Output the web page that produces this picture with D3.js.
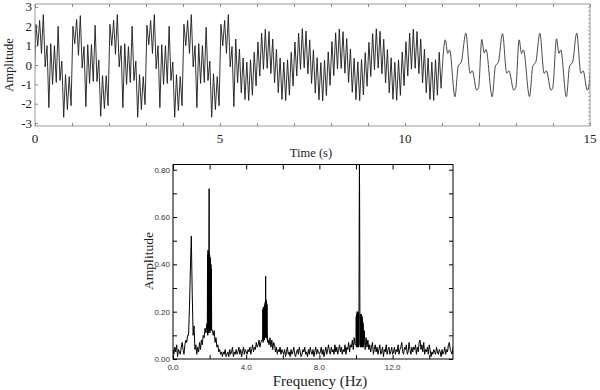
<!DOCTYPE html>
<html><head><meta charset="utf-8">
<script src="https://cdn.jsdelivr.net/npm/d3@7"></script>
<style>body{margin:0;background:#fff}svg{display:block;background:#fff}</style>
</head><body><svg id="c" width="600" height="390"></svg>
<script>
// ---------- DATA ----------
// time signal: fast parts sampled at their peaks/troughs (every 0.05 s)
const sampleStep = 0.05;
const seg1Start = -0.025;
const seg1 = [-1.2,
 2.1,1.0,2.3,0.6,2.6,-0.1,1.0,-2.2,1.1,-1.0,1.0,-0.9,2.0,-0.8,0.2,-2.7,-0.5,-2.3,-0.6,-2.1,
 2.0,1.1,2.35,0.5,2.55,-0.15,0.95,-2.15,1.05,-0.95,1.05,-0.85,2.05,-0.85,0.25,-2.65,-0.55,-2.25,-0.55,-2.1,
 2.1,1.0,2.3,0.55,2.6,-0.1,1.0,-2.2,1.1,-1.0,0.95,-0.9,2.0,-0.8,0.2,-2.7,-0.5,-2.3,-0.6,-2.05,
 2.05,1.05,2.3,0.6,2.6,-0.2,1.0,-2.2,1.05,-1.0,1.0,-0.95,2.0,-0.8,0.15,-2.7,-0.5,-2.35,-0.6,-2.1,
 2.1,1.0,2.3,0.6,2.6,-0.1,1.0,-2.2,1.1,-0.95,1.0,-0.9,1.95,-0.8,0.2,-2.7,-0.45,-2.3,-0.6,-2.1,
 2.1,1.0,2.3,0.6,2.6,-0.1,0.95,-2.15];
const seg2 = [
 1.34,-0.92,0.81,-1.43,0.36,-1.78,0.15,-1.83,0.27,-1.56,0.66,-1.08,1.19,-0.57,1.64,-0.22,
 1.85,-0.17,1.73,-0.44,1.34,-0.92,0.81,-1.43,0.36,-1.78,0.15,-1.83,0.27,-1.56,0.66,-1.08,1.19,-0.57,1.64,-0.22,
 1.88,-0.15,1.75,-0.46,1.30,-0.95,0.78,-1.45,0.38,-1.80,0.12,-1.85,0.25,-1.58,0.68,-1.05,1.21,-0.55,1.66,-0.20,
 1.86,-0.18,1.72,-0.42,1.36,-0.90,0.83,-1.41,0.34,-1.79,0.16,-1.84,0.28,-1.55,0.64,-1.10,1.17,-0.59,1.62,-0.24,
 1.87,-0.16,1.74,-0.45,1.33,-0.93,0.80,-1.44,0.37,-1.77,0.14,-1.82,0.26,-1.57,0.67,-1.07,1.20,-0.56,1.65,-0.21,
 1.85,-0.17,1.73,-0.44,1.34,-0.92,0.81,-1.43,0.36,-1.78,0.15,-1.83,0.27,-1.56,0.66,-1.2];
// slow last part: turning points (time s, amplitude)
const seg3T = [
 11.09,11.155,11.205,11.35,11.44,11.52,11.645,11.76,11.82,11.935,11.99,
 12.075,12.14,12.19,12.355,12.445,12.525,12.635,12.75,12.81,12.94,12.995,
 13.085,13.15,13.2,13.365,13.455,13.535,13.645,13.76,13.82,13.945,13.995,
 14.095,14.16,14.21,14.36,14.45,14.53,14.64,14.755,14.815,14.925,14.97,
 15.06];
const seg3V = [
 1.3,0.6,0.78,-1.64,-0.05,0.15,1.64,-0.43,-0.3,-1.3,-1.15,
 1.32,0.62,0.8,-1.64,-0.05,0.15,1.62,-0.42,-0.3,-1.3,-1.15,
 1.3,0.6,0.78,-1.63,-0.05,0.15,1.64,-0.43,-0.3,-1.3,-1.15,
 1.35,0.6,0.78,-1.64,-0.05,0.15,1.64,-0.43,-0.3,-1.3,-1.1,
 1.3];
const timeLabels = [0,5,10,15];
const ampLabels = [-3,-2,-1,0,1,2,3];

// amplitude spectrum, every 0.05 Hz from 0 Hz
const freqStep = 0.05;
const spectrum = [
 0.04,0.02,0.05,0.03,0.06,0.01,0.04,0.03,0.02,0.05,0.07,0.04,0.02,0.06,0.08,0.07,0.10,0.10,0.22,0.38,
 0.52,0.28,0.10,0.14,0.04,0.06,0.02,0.05,0.03,0.07,0.04,0.08,0.06,0.10,0.09,0.13,0.11,0.15,0.45,0.10,
 0.72,0.11,0.46,0.12,0.10,0.12,0.07,0.09,0.05,0.06,0.03,0.04,0.02,0.03,0.01,0.03,0.02,0.04,0.01,0.02,
 0.03,0.01,0.04,0.02,0.03,0.05,0.01,0.03,0.02,0.04,0.02,0.03,0.05,0.02,0.04,0.01,0.03,0.05,0.02,0.04,
 0.03,0.02,0.04,0.03,0.05,0.02,0.04,0.06,0.03,0.05,0.04,0.07,0.05,0.06,0.08,0.05,0.07,0.08,0.21,0.07,
 0.22,0.09,0.35,0.24,0.08,0.06,0.09,0.05,0.08,0.04,0.07,0.06,0.03,0.05,0.02,0.04,0.03,0.05,0.02,0.04,
 0.03,0.02,0.04,0.01,0.03,0.05,0.02,0.03,0.01,0.04,0.02,0.03,0.05,0.02,0.01,0.03,0.04,0.02,0.05,0.03,
 0.01,0.02,0.04,0.03,0.05,0.02,0.03,0.01,0.04,0.02,0.05,0.03,0.02,0.04,0.01,0.03,0.05,0.02,0.04,0.03,
 0.02,0.03,0.05,0.02,0.04,0.01,0.03,0.05,0.02,0.04,0.06,0.03,0.02,0.05,0.03,0.04,0.02,0.06,0.03,0.05,
 0.02,0.04,0.06,0.03,0.05,0.02,0.04,0.03,0.06,0.02,0.05,0.04,0.07,0.03,0.06,0.05,0.08,0.04,0.09,0.06,
 0.08,0.19,0.06,0.20,0.84,0.16,0.05,0.18,0.06,0.12,0.04,0.09,0.05,0.08,0.04,0.06,0.03,0.05,0.07,0.02,
 0.04,0.06,0.03,0.05,0.02,0.04,0.06,0.02,0.03,0.05,0.01,0.04,0.03,0.06,0.02,0.04,0.05,0.02,0.03,0.05,
 0.02,0.03,0.05,0.02,0.04,0.03,0.06,0.02,0.04,0.05,0.07,0.03,0.02,0.05,0.04,0.06,0.02,0.03,0.07,0.04,
 0.02,0.05,0.03,0.05,0.04,0.06,0.02,0.05,0.03,0.07,0.08,0.04,0.06,0.03,0.07,0.02,0.04,0.03,0.05,0.02,
 0.06,0.04,0.01,0.03,0.02,0.04,0.03,0.02,0.05,0.03,0.02,0.04,0.03,0.01,0.04,0.02,0.03,0.05,0.02,0.04,
 0.03,0.06,0.07,0.04,0.03,0.02,0.05];
// finer detail (every 0.0125 Hz) across the three broad peaks
const detailStep = 0.0125;
const peak2Start = 1.875;
const peak2 = [0.12,0.44,0.10,0.46,0.11,0.45,0.12,0.46,0.72,0.13,0.44,0.11,0.43,0.12,0.42,0.13,0.40,0.12,0.38,0.13,0.12];
const peak5Start = 4.9;
const peak5 = [0.08,0.21,0.07,0.22,0.08,0.22,0.09,0.21,0.08,0.23,0.09,0.24,0.10,0.35,0.09,0.25,0.10,0.24,0.09,0.23,0.08,0.10,0.07];
const peak10Start = 10.0;
const peak10 = [0.06,0.18,0.05,0.19,0.06,0.20,0.05,0.19,0.07,0.20,0.06,0.19,0.05,0.20,0.60,0.84,0.62,0.20,0.06,0.19,0.05,0.18,0.06,0.19,0.05,0.17,0.06,0.18,0.05,0.16,0.06,0.15,0.05,0.12,0.06];
const freqLabels = [0,4,8,12];
const specLabels = [0,0.2,0.4,0.6,0.8];

// ---------- DRAW ----------
const svg = d3.select("#c");
const serif = "'Liberation Serif','Times New Roman',serif";
const sans = "'Liberation Sans',Arial,sans-serif";

function styleAxis(g, col){
  g.select(".domain").remove();
  g.selectAll(".tick line").attr("stroke",col);
}

// ===== top panel =====
const xT = d3.scaleLinear().domain([0,15]).range([35,590]);
const yT = d3.scaleLinear().domain([-3.15,3.15]).range([126,4]);
svg.append("clipPath").attr("id","clipT").append("rect")
  .attr("x",xT(0)).attr("y",yT(3.15)).attr("width",xT(15)-xT(0)).attr("height",yT(-3.15)-yT(3.15));

svg.append("g").attr("transform",`translate(0,${yT(-3.15)})`)
  .call(d3.axisBottom(xT).tickValues(d3.range(0,16,1)).tickSize(-3).tickFormat(""))
  .call(g=>styleAxis(g,"#888"));
svg.append("g").attr("transform",`translate(0,${yT(3.15)})`)
  .call(d3.axisTop(xT).tickValues(d3.range(0,16,1)).tickSize(-3).tickFormat(""))
  .call(g=>styleAxis(g,"#888"));
svg.append("g").attr("transform",`translate(${xT(0)},0)`)
  .call(d3.axisLeft(yT).tickValues(ampLabels).tickSize(-3).tickFormat(""))
  .call(g=>styleAxis(g,"#888"));
svg.append("g").attr("transform",`translate(${xT(15)},0)`)
  .call(d3.axisRight(yT).tickValues(d3.range(-3,3.01,0.2)).tickSize(-2).tickFormat(""))
  .call(g=>styleAxis(g,"#aaa"));

const fast = [];
seg1.forEach((v,i)=>fast.push([seg1Start+i*sampleStep, v]));
const s2 = seg1Start + seg1.length*sampleStep;
seg2.forEach((v,i)=>fast.push([s2+i*sampleStep, v]));
const slow = [fast[fast.length-1]];
seg3T.forEach((t,i)=>slow.push([t, seg3V[i]]));

svg.append("path").datum(fast)
  .attr("clip-path","url(#clipT)")
  .attr("fill","none").attr("stroke","#1a1a1a").attr("stroke-width",0.9)
  .attr("d", d3.line().x(d=>xT(d[0])).y(d=>yT(d[1])));
svg.append("path").datum(slow)
  .attr("clip-path","url(#clipT)")
  .attr("fill","none").attr("stroke","#333").attr("stroke-width",0.9)
  .attr("d", d3.line().x(d=>xT(d[0])).y(d=>yT(d[1])).curve(d3.curveMonotoneX));

svg.append("rect").attr("x",xT(0)).attr("y",yT(3.15)).attr("width",xT(15)-xT(0)).attr("height",yT(-3.15)-yT(3.15))
  .attr("fill","none").attr("stroke","#999").attr("stroke-width",1);

svg.append("g").selectAll("text").data(timeLabels).join("text")
  .attr("x",d=>xT(d)).attr("y",143).attr("text-anchor","middle")
  .attr("font-family",serif).attr("font-size",13).attr("fill","#222").text(d=>d);
svg.append("g").selectAll("text").data(ampLabels).join("text")
  .attr("x",32).attr("y",d=>yT(d)+4.5).attr("text-anchor","end")
  .attr("font-family",serif).attr("font-size",13).attr("fill","#222").text(d=>d);
svg.append("text").attr("x",311).attr("y",157).attr("text-anchor","middle")
  .attr("font-family",serif).attr("font-size",12.5).attr("fill","#222").text("Time (s)");
svg.append("text").attr("transform","translate(13,65) rotate(-90)").attr("text-anchor","middle")
  .attr("font-family",serif).attr("font-size",12.5).attr("fill","#222").text("Amplitude");

// ===== bottom panel =====
const xB = d3.scaleLinear().domain([0,15.3]).range([173,453]);
const yB = d3.scaleLinear().domain([0,0.822]).range([359,164.5]);
svg.append("clipPath").attr("id","clipB").append("rect")
  .attr("x",xB(0)).attr("y",yB(0.822)).attr("width",xB(15.3)-xB(0)).attr("height",yB(0)-yB(0.822));

const details = [[peak2Start,peak2],[peak5Start,peak5],[peak10Start,peak10]];
const inDetail = f => details.some(([s,a]) => f >= s-1e-6 && f <= s+(a.length-1)*detailStep+1e-6);
let spec = spectrum.map((v,i)=>[i*freqStep, v]).filter(d=>!inDetail(d[0]));
details.forEach(([s,a]) => a.forEach((v,i)=>spec.push([s+i*detailStep, v])));
spec.sort((a,b)=>a[0]-b[0]);

svg.append("path").datum(spec)
  .attr("clip-path","url(#clipB)")
  .attr("fill","none").attr("stroke","#000").attr("stroke-width",1)
  .attr("d", d3.line().x(d=>xB(d[0])).y(d=>yB(d[1])));

svg.append("g").attr("transform",`translate(0,${yB(0.822)})`)
  .call(d3.axisTop(xB).tickValues(d3.range(0,15,2)).tickSize(-5).tickFormat(""))
  .call(g=>styleAxis(g,"#000"));
svg.append("g").attr("transform",`translate(0,${yB(0)})`)
  .call(d3.axisBottom(xB).tickValues(d3.range(0,15,2)).tickSize(-4).tickFormat(""))
  .call(g=>styleAxis(g,"#000"));
svg.append("g").attr("transform",`translate(${xB(0)},0)`)
  .call(d3.axisLeft(yB).tickValues(d3.range(0,0.81,0.1)).tickSize(-4).tickFormat(""))
  .call(g=>styleAxis(g,"#000"));
svg.append("g").attr("transform",`translate(${xB(15.3)},0)`)
  .call(d3.axisRight(yB).tickValues(d3.range(0,0.81,0.1)).tickSize(-4).tickFormat(""))
  .call(g=>styleAxis(g,"#000"));

svg.append("rect").attr("x",xB(0)).attr("y",yB(0.822)).attr("width",xB(15.3)-xB(0)).attr("height",yB(0)-yB(0.822))
  .attr("fill","none").attr("stroke","#000").attr("stroke-width",1);

svg.append("g").selectAll("text").data(specLabels).join("text")
  .attr("x",170).attr("y",d=>yB(d)+3).attr("text-anchor","end")
  .attr("font-family",sans).attr("font-size",8).attr("fill","#333").text(d=>d.toFixed(2));
svg.append("g").selectAll("text").data(freqLabels).join("text")
  .attr("x",d=>xB(d)).attr("y",370).attr("text-anchor","middle")
  .attr("font-family",sans).attr("font-size",8).attr("fill","#333").text(d=>d.toFixed(1));
svg.append("text").attr("x",320).attr("y",386).attr("text-anchor","middle")
  .attr("font-family",serif).attr("font-size",15).attr("fill","#222").text("Frequency (Hz)");
svg.append("text").attr("transform","translate(153,261) rotate(-90)").attr("text-anchor","middle")
  .attr("font-family",serif).attr("font-size",13.5).attr("fill","#222").text("Amplitude");
</script></body></html>
